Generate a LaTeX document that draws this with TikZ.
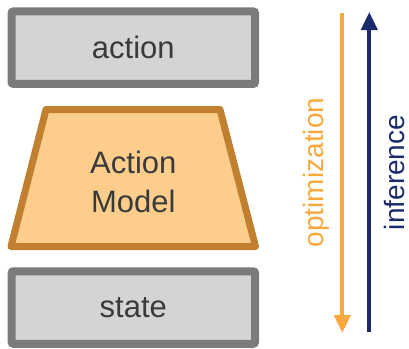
\documentclass[tikz,border=0pt]{standalone}
\usepackage{fontspec}
\setmainfont{Liberation Sans}
\usetikzlibrary{arrows.meta}
\definecolor{boxgray}{HTML}{7B7B7B}
\definecolor{boxfill}{HTML}{D4D4D4}
\definecolor{modeledge}{HTML}{C0802F}
\definecolor{modelfill}{HTML}{FDCD8C}
\definecolor{optcol}{HTML}{F9A93C}
\definecolor{infcol}{HTML}{1B2A6B}
\definecolor{txt}{HTML}{3A3A3A}
\begin{document}
\begin{tikzpicture}[x=1pt,y=-1pt,
  graybox/.style={draw=boxgray,fill=boxfill,line width=8pt,rounded corners=2pt,
    minimum width=243.5pt,minimum height=72.5pt,inner sep=0pt,
    font=\fontsize{31}{34}\selectfont,text=txt},
  flowarrow/.style={line width=4pt,-{Triangle[width=16pt,length=18pt]}},
  sidelabel/.style={rotate=90,font=\fontsize{28}{30}\selectfont,inner sep=0pt}]
\useasboundingbox (0,0) rectangle (409,348);
\node[graybox] (action) at (133.3,47.7) {action};
\node[graybox] (state) at (133.3,307.5) {state};
\draw[draw=modeledge,fill=modelfill,line width=7pt,line join=round]
  (46,109.5) -- (220,109.5) -- (255.5,246.5) -- (11,246.5) -- cycle;
\node[font=\fontsize{31}{39}\selectfont,text=txt,align=center] (model) at (133.3,182) {Action\\Model};
\coordinate (otop) at (342.3,13);
\coordinate (obot) at (342.3,333);
\coordinate (itop) at (369.3,12);
\coordinate (ibot) at (369.3,332);
\draw[flowarrow,optcol] (otop) -- (obot);
\draw[flowarrow,infcol] (ibot) -- (itop);
\node[sidelabel,text=optcol] (opt) at (316.5,172.5) {optimization};
\node[sidelabel,text=infcol] (inf) at (394.5,172.5) {inference};
\end{tikzpicture}
\end{document}
